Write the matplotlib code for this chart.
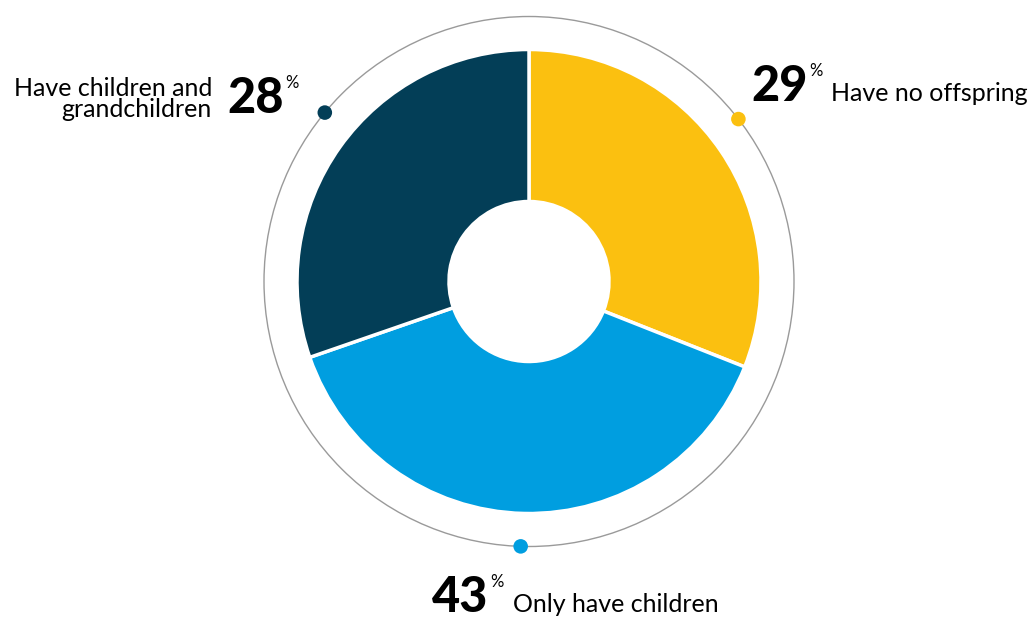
import numpy as np
import matplotlib.pyplot as plt
from matplotlib.patches import Circle

# data
labels = ["Have no offspring", "Only have children", "Have children and\ngrandchildren"]
values = [29, 43, 28]
# the slices in the reference are not drawn to the printed numbers,
# these are the shares as they appear in the picture
drawn_share = [31, 38.7, 30.3]
colors = ["#FBC010", "#009EE0", "#033E57"]

W, H = 1029, 617
fig = plt.figure(figsize=(W / 100, H / 100), dpi=100)
ax = fig.add_axes([0, 0, 1, 1])

cx, cy = 529, H - 281.5
r_out, r_in, r_ring = 232, 80, 265

ax.pie(drawn_share, colors=colors, startangle=90, counterclock=False,
       center=(cx, cy), radius=r_out,
       wedgeprops=dict(width=r_out - r_in, edgecolor="white", linewidth=2.5))

ax.add_patch(Circle((cx, cy), r_ring, fill=False, edgecolor="#9a9a9a", lw=1, zorder=0))

# dots on the outer ring, at the middle of each printed share
start = 0
for v, c in zip(values, colors):
    mid = (start + v / 2) / sum(values) * 2 * np.pi
    start += v
    ax.scatter(cx + r_ring * np.sin(mid), cy + r_ring * np.cos(mid), s=110,
               color=c, zorder=5, edgecolors="none")

ax.set_xlim(0, W)
ax.set_ylim(0, H)
ax.set_aspect("equal")
ax.axis("off")

fam = ["Lato", "DejaVu Sans"]
num_kw = dict(fontsize=35, fontweight="black", family=fam, color="black", va="baseline")
lab_kw = dict(fontsize=18, family=fam, color="black", va="baseline")


def pct(t):
    ax.annotate("%", xy=(1, 1), xycoords=t, xytext=(1.5, 1), textcoords="offset points",
                ha="left", va="top", fontsize=12, family=fam, color="black")


# top right
t = ax.text(751, H - 101, f"{values[0]}", ha="left", **num_kw)
pct(t)
ax.text(831, H - 101, labels[0], ha="left", **lab_kw)

# bottom
t = ax.text(432, H - 612, f"{values[1]}", ha="left", **num_kw)
pct(t)
ax.text(513, H - 612, labels[1], ha="left", **lab_kw)

# top left
t = ax.text(227, H - 113, f"{values[2]}", ha="left", **num_kw)
pct(t)
ax.text(212, H - 117, labels[2], ha="right", multialignment="right",
        linespacing=0.92, **lab_kw)

fig.savefig("out.png", dpi=100)
